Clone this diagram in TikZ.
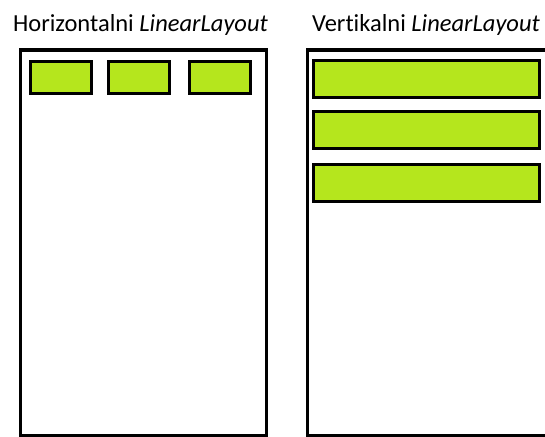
\documentclass[tikz,border=0pt]{standalone}
\usepackage{fontspec}
\setmainfont{Carlito}[Ligatures=NoCommon]
\definecolor{lgreen}{RGB}{181,230,29}
\begin{document}
\begin{tikzpicture}[x=1pt,y=-1pt,
  frame/.style={draw=black,line width=3pt},
  item/.style={draw=black,fill=lgreen,line width=3pt,rectangle,inner sep=0pt},
  title/.style={font=\fontsize{24.5}{28}\selectfont,anchor=base,inner sep=0pt}]
\useasboundingbox (0,0) rectangle (545,436);
\node[title] (t1) at (140.5,31) {Horizontalni \textit{LinearLayout}};
\node[title] (t2) at (426,31) {Vertikalni \textit{LinearLayout}};
\draw[frame] (20,50) rectangle (266,435);
\draw[frame] (550,50) -- (307,50) -- (307,435) -- (550,435);
\node[item,minimum width=61pt,minimum height=32pt] (h1) at (61,77) {};
\node[item,minimum width=61pt,minimum height=32pt] (h2) at (139,77) {};
\node[item,minimum width=61pt,minimum height=32pt] (h3) at (219.5,77) {};
\node[item,minimum width=226pt,minimum height=37pt] (v1) at (426.5,78.5) {};
\node[item,minimum width=226pt,minimum height=37pt] (v2) at (426.5,130) {};
\node[item,minimum width=226pt,minimum height=37pt] (v3) at (426.5,183) {};
\end{tikzpicture}
\end{document}
